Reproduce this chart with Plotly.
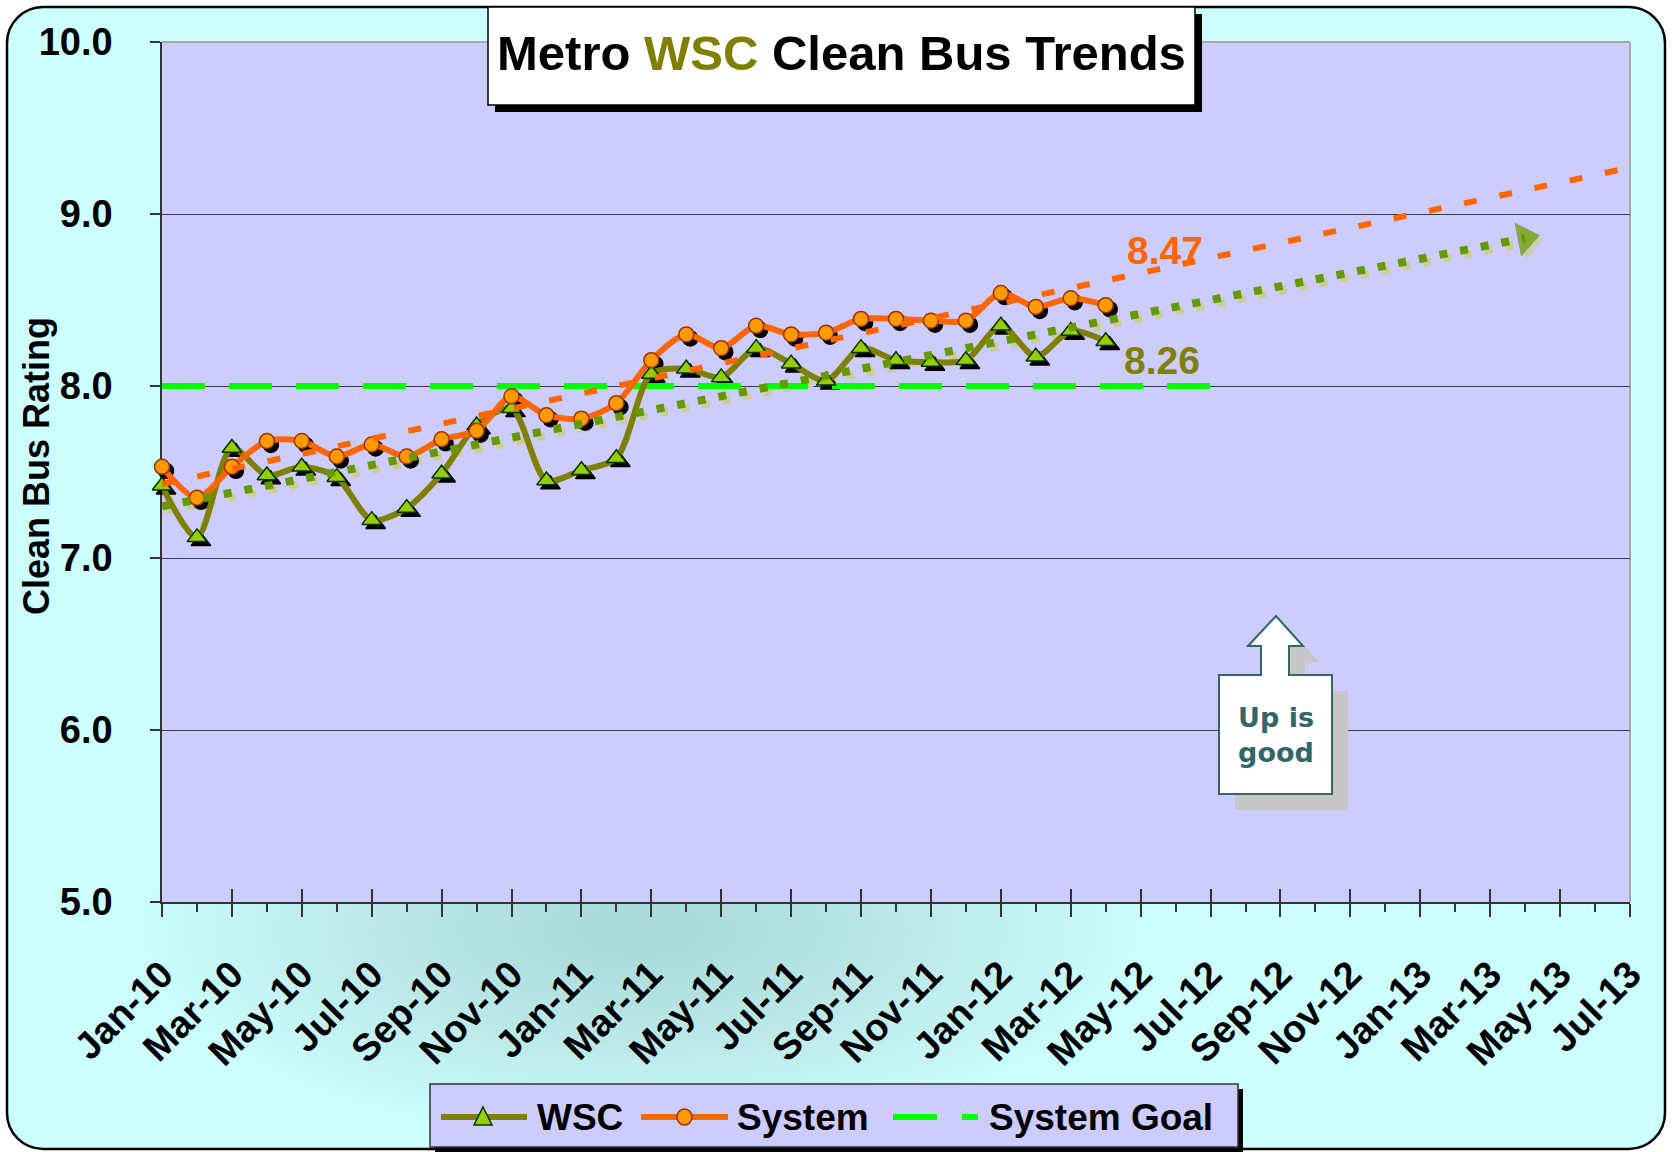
import base64
import plotly.graph_objects as go

# ---------------- data ----------------
months = ["Jan-10", "Feb-10", "Mar-10", "Apr-10", "May-10", "Jun-10", "Jul-10", "Aug-10",
          "Sep-10", "Oct-10", "Nov-10", "Dec-10", "Jan-11", "Feb-11", "Mar-11", "Apr-11",
          "May-11", "Jun-11", "Jul-11", "Aug-11", "Sep-11", "Oct-11", "Nov-11", "Dec-11",
          "Jan-12", "Feb-12", "Mar-12", "Apr-12", "May-12", "Jun-12", "Jul-12", "Aug-12",
          "Sep-12", "Oct-12", "Nov-12", "Dec-12", "Jan-13", "Feb-13", "Mar-13", "Apr-13",
          "May-13", "Jun-13", "Jul-13"]
tick_labels = months[::2]

wsc = [7.42, 7.12, 7.64, 7.48, 7.53, 7.47, 7.22, 7.29, 7.49, 7.77, 7.87, 7.45, 7.51, 7.58,
       8.07, 8.10, 8.05, 8.22, 8.13, 8.03, 8.22, 8.15, 8.14, 8.15, 8.35, 8.17, 8.32, 8.26]
system = [7.53, 7.35, 7.53, 7.68, 7.68, 7.59, 7.66, 7.59, 7.69, 7.74, 7.94, 7.83, 7.81, 7.90,
          8.15, 8.30, 8.22, 8.35, 8.30, 8.31, 8.39, 8.39, 8.38, 8.38, 8.54, 8.46, 8.51, 8.47]
goal_months = ["Jan-10", "Jul-12"]
goal_values = [8.0, 8.0]
system_trend_months = ["Jan-10", "Jul-13"]
system_trend_values = [7.43, 9.27]
wsc_trend_months = ["Jan-10", "Apr-13"]
wsc_trend_values = [7.30, 8.86]
y_ticks = [5.0, 6.0, 7.0, 8.0, 9.0, 10.0]
legend_names = ["WSC", "System", "System Goal"]

idx = {m: i for i, m in enumerate(months)}
x_data = [idx[m] for m in months[:len(wsc)]]
x_goal = [idx[m] for m in goal_months]
x_strend = [idx[m] for m in system_trend_months]
x_wtrend = [idx[m] for m in wsc_trend_months]

# ---------------- geometry ----------------
W, H = 1672, 1152
ML, MR, MT, MB = 162, 38, 42, 246
PW = W - ML - MR
PH = H - MT - MB
SH = 4  # shadow offset in px


def px(x):
    return (x - ML) / PW


def py(y):
    return (H - MB - y) / PH


FONT = "Liberation Sans, Arial, Helvetica, sans-serif"
OLIVE = "#808000"
ORANGE = "#ff6600"
WSC_FILL, WSC_EDGE = "#99cc00", "#003300"
SYS_FILL, SYS_EDGE = "#ff9900", "#993300"
GOAL = "#00ff00"
TREND_G = "#669900"
TAN = "#cccc99"

fig = go.Figure()

# shadow traces (subplot x2/y2, shifted right/down)
fig.add_trace(go.Scatter(x=x_wtrend, y=wsc_trend_values, mode="lines+markers",
                         line=dict(color=TAN, width=8, dash="8px,13px"),
                         marker=dict(symbol="triangle-right", size=[0, 30], angle=-11,
                                     color=TAN, line=dict(width=0)),
                         xaxis="x2", yaxis="y2", showlegend=False, cliponaxis=False,
                         hoverinfo="skip"))
fig.add_trace(go.Scatter(x=x_data, y=wsc, mode="markers",
                         marker=dict(symbol="triangle-up", size=17, color="black",
                                     line=dict(color="black", width=1.5)),
                         xaxis="x2", yaxis="y2", showlegend=False, cliponaxis=False,
                         hoverinfo="skip"))
fig.add_trace(go.Scatter(x=x_data, y=system, mode="markers",
                         marker=dict(symbol="circle", size=15, color="black",
                                     line=dict(color="black", width=1.5)),
                         xaxis="x2", yaxis="y2", showlegend=False, cliponaxis=False,
                         hoverinfo="skip"))

# main traces (subplot x3/y3, same place as x/y)
fig.add_trace(go.Scatter(x=x_goal, y=goal_values, mode="lines", name=legend_names[2],
                         line=dict(color=GOAL, width=6, dash="43px,24px"),
                         xaxis="x3", yaxis="y3", showlegend=False))
fig.add_trace(go.Scatter(x=x_data, y=wsc, mode="lines+markers", name=legend_names[0],
                         line=dict(color=OLIVE, width=6, shape="spline", smoothing=0.8),
                         marker=dict(symbol="triangle-up", size=17, color=WSC_FILL,
                                     line=dict(color=WSC_EDGE, width=1.5)),
                         xaxis="x3", yaxis="y3", cliponaxis=False, showlegend=False))
fig.add_trace(go.Scatter(x=x_data, y=system, mode="lines+markers", name=legend_names[1],
                         line=dict(color=ORANGE, width=6, shape="spline", smoothing=0.8),
                         marker=dict(symbol="circle", size=15, color=SYS_FILL,
                                     line=dict(color=SYS_EDGE, width=1.5)),
                         xaxis="x3", yaxis="y3", cliponaxis=False, showlegend=False))
fig.add_trace(go.Scatter(x=x_wtrend, y=wsc_trend_values, mode="lines+markers",
                         line=dict(color=TREND_G, width=8, dash="8px,13px"),
                         marker=dict(symbol="triangle-right", size=[0, 30], angle=-11,
                                     color=TREND_G, line=dict(width=0)),
                         xaxis="x3", yaxis="y3", showlegend=False, cliponaxis=False,
                         hoverinfo="skip"))
fig.add_trace(go.Scatter(x=x_strend, y=system_trend_values, mode="lines",
                         line=dict(color=ORANGE, width=6, dash="13px,23px"),
                         xaxis="x3", yaxis="y3", showlegend=False, hoverinfo="skip"))

# ---------------- background image (rounded cyan panel) ----------------
svg = f"""<svg xmlns='http://www.w3.org/2000/svg' width='{W}' height='{H}' viewBox='0 0 {W} {H}'>
<defs><radialGradient id='g' gradientUnits='userSpaceOnUse' cx='640' cy='930' r='520'
 gradientTransform='translate(640 930) scale(1 0.42) translate(-640 -930)'>
<stop offset='0' stop-color='#a8d8d8'/><stop offset='0.55' stop-color='#bde9e9'/>
<stop offset='1' stop-color='#ccffff'/></radialGradient></defs>
<rect x='7' y='7' width='1658' height='1142' rx='36' ry='36' fill='#ccffff' stroke='black' stroke-width='2.5'/>
<rect x='9' y='9' width='1654' height='1138' rx='34' ry='34' fill='url(#g)'/>
</svg>"""
src = "data:image/svg+xml;base64," + base64.b64encode(svg.encode()).decode()

shapes = []
# plot background and frame
shapes.append(dict(type="rect", xref="x domain", yref="y domain", x0=0, x1=1, y0=0, y1=1,
                   fillcolor="#ccccff", line=dict(width=0), layer="below"))
shapes.append(dict(type="line", xref="x domain", yref="y domain", x0=0, x1=1, y0=1, y1=1,
                   line=dict(color="#a8a8a8", width=2), layer="below"))
shapes.append(dict(type="line", xref="x domain", yref="y domain", x0=1, x1=1, y0=0, y1=1,
                   line=dict(color="#a8a8a8", width=2), layer="below"))

# title box with shadow
shapes.append(dict(type="rect", xref="paper", yref="paper", x0=px(495), x1=px(1202),
                   y0=py(112), y1=py(14), fillcolor="black", line=dict(width=0), layer="above"))
shapes.append(dict(type="rect", xref="paper", yref="paper", x0=px(488), x1=px(1195),
                   y0=py(105), y1=py(7), fillcolor="white", line=dict(color="black", width=1.5),
                   layer="above"))


def arrow_path(dx, dy):
    pts = [(1248, 646), (1276, 616), (1303, 646), (1289, 646), (1289, 675), (1332, 675),
           (1332, 794), (1219, 794), (1219, 675), (1261, 675), (1261, 646)]
    s = "M " + " L ".join(f"{px(x + dx):.5f},{py(y + dy):.5f}" for x, y in pts) + " Z"
    return s


shapes.append(dict(type="path", xref="paper", yref="paper", path=arrow_path(16, 16),
                   fillcolor="#c6c6c6", line=dict(width=0), layer="above"))
shapes.append(dict(type="path", xref="paper", yref="paper", path=arrow_path(0, 0),
                   fillcolor="white", line=dict(color="#336666", width=2), layer="above"))

# ---------------- legend (drawn as a boxed key) ----------------
LY = 1117
shapes.append(dict(type="rect", xref="paper", yref="paper", x0=px(435), x1=px(1243),
                   y0=py(1153), y1=py(1089), fillcolor="black", line=dict(width=0),
                   layer="above"))
shapes.append(dict(type="rect", xref="paper", yref="paper", x0=px(430), x1=px(1238),
                   y0=py(1147), y1=py(1084), fillcolor="#ccccff",
                   line=dict(color="#333333", width=1.5), layer="above"))
shapes.append(dict(type="line", xref="paper", yref="paper", x0=px(441), x1=px(527),
                   y0=py(LY), y1=py(LY), line=dict(color=OLIVE, width=6), layer="above"))
tri = [(483, LY - 10), (492, LY + 8), (474, LY + 8)]
shapes.append(dict(type="path", xref="paper", yref="paper",
                   path="M " + " L ".join(f"{px(a):.5f},{py(b):.5f}" for a, b in tri) + " Z",
                   fillcolor=WSC_FILL, line=dict(color=WSC_EDGE, width=1.5), layer="above"))
shapes.append(dict(type="line", xref="paper", yref="paper", x0=px(641), x1=px(728),
                   y0=py(LY), y1=py(LY), line=dict(color=ORANGE, width=6), layer="above"))
shapes.append(dict(type="circle", xref="paper", yref="paper", x0=px(677), x1=px(692),
                   y0=py(LY + 8), y1=py(LY - 8), fillcolor=SYS_FILL,
                   line=dict(color=SYS_EDGE, width=1.5), layer="above"))
shapes.append(dict(type="line", xref="paper", yref="paper", x0=px(893), x1=px(978),
                   y0=py(LY), y1=py(LY), line=dict(color=GOAL, width=6, dash="44px,25px"),
                   layer="above"))

annotations = [
    dict(text="Metro <span style='color:#808000'>WSC</span> Clean Bus Trends",
         xref="paper", yref="paper", x=px(841), y=py(53), xanchor="center", yanchor="middle",
         showarrow=False, font=dict(family=FONT, size=49, color="black", weight="bold")),
    dict(text="Clean Bus Rating", xref="paper", yref="paper", x=px(37), y=py(466),
         xanchor="center", yanchor="middle", textangle=-90, showarrow=False,
         font=dict(family=FONT, size=36, color="black", weight="bold")),
    dict(text=f"{system[-1]:.2f}", xref="x", yref="y", x=28.7, y=8.79, showarrow=False,
         xanchor="center", yanchor="middle",
         font=dict(family=FONT, size=39, color=ORANGE, weight="bold")),
    dict(text=f"{wsc[-1]:.2f}", xref="x", yref="y", x=28.6, y=8.15, showarrow=False,
         xanchor="center", yanchor="middle",
         font=dict(family=FONT, size=39, color=OLIVE, weight="bold")),
    dict(text="Up is<br>good", xref="paper", yref="paper", x=px(1276), y=py(735),
         xanchor="center", yanchor="middle", showarrow=False,
         font=dict(family="DejaVu Sans, Verdana, sans-serif", size=27, color="#336666",
                   weight="bold")),
]
for name, x0 in zip(legend_names, [535, 735, 987]):
    annotations.append(dict(text=name, xref="paper", yref="paper", x=px(x0), y=py(LY),
                            xanchor="left", yanchor="middle", showarrow=False,
                            font=dict(family=FONT, size=37, color="black", weight="bold")))

main_x_dom = [0, (PW - SH) / PW]
main_y_dom = [SH / PH, 1]
shadow_x_dom = [SH / PW, 1]
shadow_y_dom = [0, (PH - SH) / PH]
major_vals = [idx[m] for m in tick_labels]

fig.update_layout(
    width=W, height=H,
    margin=dict(l=ML, r=MR, t=MT, b=MB),
    paper_bgcolor="white",
    plot_bgcolor="rgba(0,0,0,0)",
    font=dict(family=FONT, color="black"),
    showlegend=False,
    xaxis=dict(domain=main_x_dom, range=[0, len(months) - 1], showgrid=False, zeroline=False,
               tickmode="array", tickvals=major_vals, ticktext=tick_labels,
               tickangle=-45, ticks="outside", ticklen=13, tickwidth=1.5, tickcolor="#333333",
               ticklabelstandoff=20,
               tickfont=dict(family=FONT, size=38, color="black", weight="bold"),
               showline=True, linecolor="#333333", linewidth=1.5,
               minor=dict(tickmode="array", tickvals=list(range(len(months))), ticks="outside",
                          ticklen=8, tickwidth=1.5, tickcolor="#333333", showgrid=False)),
    yaxis=dict(domain=main_y_dom, range=[5, 10], tickmode="array", tickvals=y_ticks,
               ticktext=[f"{v:.1f}" for v in y_ticks], showgrid=True, gridcolor="#3a3a3a",
               gridwidth=1.2, zeroline=False, ticks="outside", ticklen=10, tickwidth=1.5,
               tickcolor="#333333", ticklabelstandoff=30,
               tickfont=dict(family=FONT, size=38, color="black", weight="bold"),
               showline=True, linecolor="#333333", linewidth=1.5),
    xaxis2=dict(domain=shadow_x_dom, range=[0, len(months) - 1], visible=False, anchor="y2"),
    yaxis2=dict(domain=shadow_y_dom, range=[5, 10], visible=False, anchor="x2"),
    xaxis3=dict(domain=main_x_dom, range=[0, len(months) - 1], anchor="y3",
                showgrid=False, zeroline=False, showline=False, showticklabels=False,
                tickmode="array", tickvals=major_vals, ticks="inside", ticklen=13,
                tickwidth=1.5, tickcolor="#333333"),
    yaxis3=dict(domain=main_y_dom, range=[5, 10], visible=False, anchor="x3"),
    images=[dict(source=src, xref="paper", yref="paper", x=px(0), y=py(0),
                 sizex=W / PW, sizey=H / PH, xanchor="left", yanchor="top",
                 sizing="stretch", layer="below")],
    shapes=shapes,
    annotations=annotations,
)

fig.write_html("out.html", config={"displayModeBar": False},
               post_script="document.body.style.margin='0px';")
